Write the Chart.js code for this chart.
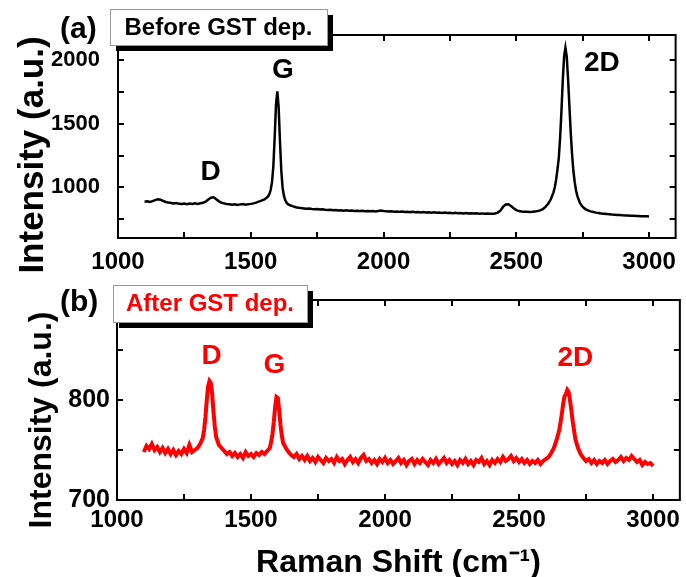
<!DOCTYPE html>
<html>
<head>
<meta charset="utf-8">
<script src="https://cdn.jsdelivr.net/npm/chart.js@4"></script>
<style>
  html, body { margin: 0; padding: 0; background: #fff; }
  body { width: 686px; height: 577px; position: relative; overflow: hidden; }
  .panel { position: absolute; left: 0; width: 686px; }
  #panelA { top: 0; height: 285px; }
  #panelB { top: 278px; height: 299px; }
</style>
</head>
<body>
<div class="panel" id="panelA"><canvas id="beforeChart"></canvas></div>
<div class="panel" id="panelB"><canvas id="afterChart"></canvas></div>
<script>
// (a) Before GST dep. - Raman shift (cm-1) and intensity (a.u.)
const ramanShiftBefore = [
  1100, 1110, 1120, 1130, 1140, 1150, 1160, 1170, 1180, 1190,
  1200, 1210, 1220, 1230, 1240, 1250, 1260, 1270, 1280, 1290,
  1300, 1310, 1320, 1330, 1340, 1350, 1360, 1370, 1380, 1390,
  1400, 1410, 1420, 1430, 1440, 1450, 1460, 1470, 1480, 1490,
  1500, 1510, 1520, 1530, 1540, 1550, 1560,
  1565, 1570, 1575, 1580, 1585, 1590, 1595, 1600, 1605, 1610, 1615, 1620, 1625, 1630, 1635,
  1640, 1650, 1660, 1670, 1680, 1690,
  1700, 1710, 1720, 1730, 1740, 1750, 1760, 1770, 1780, 1790,
  1800, 1810, 1820, 1830, 1840, 1850, 1860, 1870, 1880, 1890,
  1900, 1910, 1920, 1930, 1940, 1950, 1960, 1970, 1980, 1990,
  2000, 2010, 2020, 2030, 2040, 2050, 2060, 2070, 2080, 2090,
  2100, 2110, 2120, 2130, 2140, 2150, 2160, 2170, 2180, 2190,
  2200, 2210, 2220, 2230, 2240, 2250, 2260, 2270, 2280, 2290,
  2300, 2310, 2320, 2330, 2340, 2350, 2360, 2370, 2380, 2390,
  2400, 2410, 2420, 2430, 2440, 2450, 2460, 2470, 2480, 2490,
  2500, 2510, 2520, 2530, 2540, 2550, 2560, 2570, 2580, 2590,
  2600, 2610, 2620, 2630, 2640,
  2645, 2650, 2655, 2660, 2665, 2670, 2675, 2680, 2685, 2690, 2695, 2700, 2705, 2710, 2715, 2720, 2725,
  2730, 2740, 2750, 2760, 2770, 2780, 2790, 2800, 2810, 2820,
  2830, 2840, 2850, 2860, 2870, 2880, 2890, 2900, 2910, 2920,
  2930, 2940, 2950, 2960, 2970, 2980, 2990, 3000
];
const intensityBefore = [
  885, 889, 884, 891, 899, 906, 901, 893, 884, 879,
  876, 872, 875, 869, 868, 872, 867, 871, 868, 873,
  869, 874, 877, 886, 904, 917, 921, 906, 889, 878,
  873, 867, 866, 863, 866, 861, 865, 868, 863, 866,
  869, 873, 879, 887, 894, 903, 916,
  928, 945, 978, 1040, 1165, 1390, 1650, 1755, 1630, 1360, 1130, 995, 932, 897, 878,
  867, 856, 849, 843, 839, 836,
  833, 830, 832, 828, 826, 829, 824, 826, 822, 820,
  823, 819, 821, 817, 819, 815, 818, 814, 816, 813,
  815, 812, 814, 811, 813, 810, 812, 809, 813, 816,
  812, 810, 808, 810, 807, 809, 806, 808, 805, 807,
  804, 806, 803, 805, 802, 804, 801, 803, 800, 802,
  799, 801, 798, 800, 797, 799, 796, 798, 795, 797,
  794, 796, 793, 795, 793, 795, 792, 794, 791, 793,
  791, 792, 793, 800, 815, 845, 864, 866, 852, 835,
  820, 812, 809, 807, 806, 805, 806, 808, 812, 818,
  828, 845, 870, 905, 960,
  1000, 1060, 1140, 1230, 1390, 1600, 1840, 2030, 2100, 2030, 1850, 1640, 1430, 1260, 1130, 1040, 975,
  930, 875, 845, 828, 818, 810, 805, 800, 797, 793,
  791, 789, 787, 785, 784, 782, 781, 779, 778, 777,
  776, 775, 774, 773, 772, 771, 771, 770
];

// (b) After GST dep.
const ramanShiftAfter = [
  1100, 1110, 1120, 1130, 1140, 1150, 1160, 1170, 1180, 1190,
  1200, 1210, 1220, 1230, 1240, 1250, 1260, 1270, 1280, 1290,
  1300, 1310, 1320,
  1325, 1330, 1335, 1340, 1345, 1350, 1355, 1360, 1365,
  1370, 1380, 1390, 1400, 1410, 1420, 1430, 1440, 1450, 1460,
  1470, 1480, 1490, 1500, 1510, 1520, 1530, 1540, 1550, 1560, 1570,
  1575, 1580, 1585, 1590, 1595, 1600, 1605, 1610, 1615,
  1620, 1630, 1640, 1650, 1660, 1670, 1680, 1690,
  1700, 1710, 1720, 1730, 1740, 1750, 1760, 1770, 1780, 1790,
  1800, 1810, 1820, 1830, 1840, 1850, 1860, 1870, 1880, 1890,
  1900, 1910, 1920, 1930, 1940, 1950, 1960, 1970, 1980, 1990,
  2000, 2010, 2020, 2030, 2040, 2050, 2060, 2070, 2080, 2090,
  2100, 2110, 2120, 2130, 2140, 2150, 2160, 2170, 2180, 2190,
  2200, 2210, 2220, 2230, 2240, 2250, 2260, 2270, 2280, 2290,
  2300, 2310, 2320, 2330, 2340, 2350, 2360, 2370, 2380, 2390,
  2400, 2410, 2420, 2430, 2440, 2450, 2460, 2470, 2480, 2490,
  2500, 2510, 2520, 2530, 2540, 2550, 2560, 2570, 2580, 2590,
  2600, 2610, 2620, 2630, 2640, 2650,
  2655, 2660, 2665, 2670, 2675, 2680, 2685, 2690, 2695, 2700, 2705,
  2710, 2720, 2730, 2740, 2750, 2760, 2770, 2780, 2790, 2800,
  2810, 2820, 2830, 2840, 2850, 2860, 2870, 2880, 2890, 2900,
  2910, 2920, 2930, 2940, 2950, 2960, 2970, 2980, 2990, 3000
];
const intensityAfter = [
  748, 754, 751, 756, 750, 753, 748, 752, 747, 751,
  746, 750, 745, 749, 746, 751, 747, 755, 748, 750,
  752, 756, 762,
  770, 783, 800, 814, 819, 817, 806, 788, 773,
  763, 755, 752, 749, 746, 748, 744, 747, 743, 746,
  742, 748, 744, 746, 743, 747, 745, 748, 746, 749, 752,
  758, 766, 778, 793, 803, 802, 790, 775, 764,
  757, 752, 748, 745, 743, 746, 741, 744,
  740, 744, 739, 742, 738, 743, 740, 737, 742, 739,
  741, 737, 743, 739, 741, 736, 740, 743, 738, 741,
  737, 742, 745, 739, 741, 737, 740, 736, 741, 738,
  742, 737, 740, 736, 739, 742, 737, 740, 735, 739,
  741, 736, 740, 737, 741, 738, 735, 740, 737, 741,
  736, 739, 742, 737, 740, 736, 739, 735, 740, 737,
  741, 736, 739, 735, 740, 738, 742, 736, 739, 735,
  740, 737, 741, 738, 743, 739, 741, 744, 739, 742,
  738, 741, 737, 740, 736, 739, 737, 740, 736, 739,
  741, 743, 747, 752, 760, 770,
  778, 787, 797, 804, 806, 810, 808, 800, 790, 779, 770,
  761, 752, 746, 742, 739, 741, 737, 740, 736, 739,
  737, 740, 736, 739, 741, 738, 740, 743, 739, 742,
  740, 744, 741, 738, 740, 735, 738, 736, 737, 734
];

const xTickLabels = [1000, 1500, 2000, 2500, 3000];
const yTickLabelsBefore = [1000, 1500, 2000];
const yTickLabelsAfter = [700, 800];

// peak names with (shift, intensity) where the label sits
const peakNames = ['D', 'G', '2D'];
const peakLabelShiftBefore = [1349, 1621, 2822];
const peakLabelIntensityBefore = [1117, 1922, 1977];
const peakLabelShiftAfter = [1353, 1587, 2710];
const peakLabelIntensityAfter = [844, 835, 842];

Chart.defaults.font.family = "'Liberation Sans', Arial, sans-serif";
Chart.defaults.font.weight = 'bold';
Chart.defaults.color = '#000';

// frame, inward ticks on all four sides, labels and the shadowed caption box
const framePlugin = {
    id: 'frame',
    afterDraw(chart, args, opts) {
        const {ctx, chartArea: a, scales} = chart;
        const tick = 6;
        ctx.save();
        ctx.strokeStyle = '#000';
        ctx.lineWidth = 2;
        ctx.beginPath();
        scales.x.ticks.forEach(t => {
            const px = Math.round(scales.x.getPixelForValue(t.value));
            ctx.moveTo(px, a.bottom); ctx.lineTo(px, a.bottom - tick);
            ctx.moveTo(px, a.top); ctx.lineTo(px, a.top + tick);
        });
        scales.y.ticks.forEach(t => {
            const py = Math.round(scales.y.getPixelForValue(t.value));
            ctx.moveTo(a.left, py); ctx.lineTo(a.left + tick, py);
            ctx.moveTo(a.right, py); ctx.lineTo(a.right - tick, py);
        });
        ctx.stroke();
        ctx.strokeRect(a.left, a.top, a.right - a.left, a.bottom - a.top);

        // peak labels
        ctx.fillStyle = opts.color;
        ctx.font = 'bold 28px ' + Chart.defaults.font.family;
        ctx.textAlign = 'center';
        ctx.textBaseline = 'middle';
        opts.peaks.names.forEach((name, i) => {
            ctx.fillText(name, scales.x.getPixelForValue(opts.peaks.x[i]),
                scales.y.getPixelForValue(opts.peaks.y[i]));
        });

        // y axis title
        ctx.save();
        ctx.fillStyle = '#000';
        ctx.translate(opts.yTitle.x, opts.yTitle.y);
        ctx.rotate(-Math.PI / 2);
        ctx.font = 'bold ' + opts.yTitle.size + 'px ' + Chart.defaults.font.family;
        ctx.textBaseline = 'alphabetic';
        ctx.fillText('Intensity (a.u.)', 0, 0);
        ctx.restore();

        // panel letter
        ctx.fillStyle = '#000';
        ctx.font = 'bold 30px ' + Chart.defaults.font.family;
        ctx.textAlign = 'left';
        ctx.textBaseline = 'alphabetic';
        ctx.fillText(opts.panel.text, opts.panel.x, opts.panel.y);

        // caption box with shadow
        const b = opts.box;
        ctx.fillStyle = '#000';
        ctx.fillRect(b.x + 6, b.y + 6, b.w, b.h);
        ctx.fillStyle = '#fff';
        ctx.fillRect(b.x, b.y, b.w, b.h);
        ctx.strokeStyle = '#999';
        ctx.lineWidth = 1;
        ctx.strokeRect(b.x + 0.5, b.y + 0.5, b.w, b.h);
        ctx.fillStyle = opts.color;
        ctx.font = 'bold 24px ' + Chart.defaults.font.family;
        ctx.textAlign = 'center';
        ctx.textBaseline = 'middle';
        ctx.fillText(b.text, b.x + b.w / 2, b.y + b.h / 2 + 1);
        ctx.restore();
    }
};

function createSpectrum(canvasId, cfg) {
    const ctx = document.getElementById(canvasId).getContext('2d');
    return new Chart(ctx, {
        type: 'line',
        data: {
            datasets: [{
                data: cfg.shift.map((x, i) => ({x: x, y: cfg.intensity[i]})),
                borderColor: cfg.color,
                borderWidth: cfg.lineWidth,
                pointRadius: 0,
                tension: 0,
                fill: false,
            }],
        },
        options: {
            responsive: true,
            maintainAspectRatio: false,
            animation: false,
            layout: {padding: {left: 0, right: 5, top: cfg.top, bottom: 0}},
            plugins: {
                legend: {display: false},
                tooltip: {enabled: false},
                frame: {
                    color: cfg.color,
                    peaks: {names: peakNames, x: cfg.peakX, y: cfg.peakY},
                    yTitle: cfg.yTitle,
                    panel: cfg.panel,
                    box: cfg.box,
                },
            },
            scales: {
                x: {
                    type: 'linear',
                    min: 1000,
                    max: 3100,
                    grid: {display: false, drawTicks: false},
                    border: {display: false},
                    ticks: {
                        stepSize: 250,
                        includeBounds: false,
                        autoSkip: false,
                        maxRotation: 0,
                        padding: cfg.xTickPad,
                        font: {size: 24, weight: 'bold'},
                        callback: v => xTickLabels.includes(v) ? String(v) : '',
                    },
                    title: {
                        display: cfg.xTitle,
                        text: 'Raman Shift (cm\u207B\u00B9)',
                        font: {size: 32, weight: 'bold', lineHeight: 0.875},
                        padding: {top: 0, bottom: 0},
                    },
                    afterFit: s => { s.height = cfg.xHeight; },
                },
                y: {
                    min: cfg.yMin,
                    max: cfg.yMax,
                    grid: {display: false, drawTicks: false},
                    border: {display: false},
                    ticks: {
                        stepSize: cfg.yStep,
                        includeBounds: false,
                        autoSkip: false,
                        padding: cfg.yTickPad,
                        font: {size: cfg.yFont, weight: 'bold'},
                        callback: v => cfg.yLabels.includes(v) ? String(v) : '',
                    },
                    afterFit: s => { s.width = cfg.yWidth; },
                },
            },
        },
        plugins: [framePlugin],
    });
}

createSpectrum('beforeChart', {
    shift: ramanShiftBefore, intensity: intensityBefore,
    color: '#000', lineWidth: 2.5,
    top: 35, xHeight: 47, yWidth: 118, xTickPad: 10, yTickPad: 18, yFont: 22,
    yMin: 600, yMax: 2200, yStep: 250, yLabels: yTickLabelsBefore,
    peakX: peakLabelShiftBefore, peakY: peakLabelIntensityBefore,
    xTitle: false,
    yTitle: {x: 43, y: 155, size: 35},
    panel: {text: '(a)', x: 60, y: 38},
    box: {text: 'Before GST dep.', x: 110, y: 9, w: 217, h: 36},
});

createSpectrum('afterChart', {
    shift: ramanShiftAfter, intensity: intensityAfter,
    color: '#ff0000', lineWidth: 4,
    top: 19, xHeight: 77, yWidth: 117, xTickPad: 6, yTickPad: 7, yFont: 25,
    yMin: 700, yMax: 900, yStep: 50, yLabels: yTickLabelsAfter,
    peakX: peakLabelShiftAfter, peakY: peakLabelIntensityAfter,
    xTitle: true,
    yTitle: {x: 51, y: 142, size: 32},
    panel: {text: '(b)', x: 60, y: 33},
    box: {text: 'After GST dep.', x: 113, y: 7, w: 194, h: 37},
});
</script>
</body>
</html>
